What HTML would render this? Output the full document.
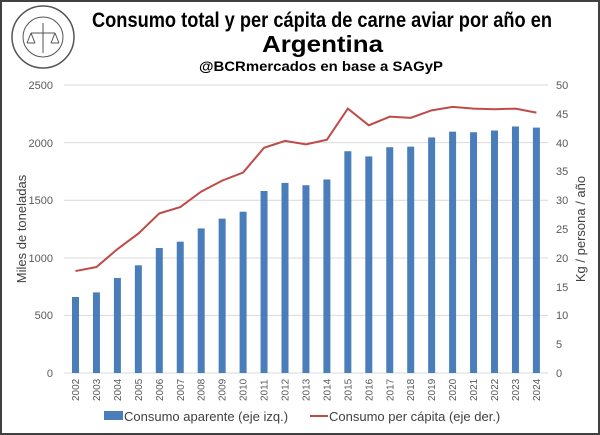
<!DOCTYPE html>
<html><head><meta charset="utf-8"><style>
html,body{margin:0;padding:0;background:#fff}
svg{display:block}
</style></head><body>
<svg width="600" height="435" xmlns="http://www.w3.org/2000/svg" font-family="Liberation Sans, sans-serif">
<rect x="1" y="1" width="598" height="433" fill="#fff" stroke="#404040" stroke-width="2"/>
<g transform="translate(43,37)" fill="none" stroke="#555">
<circle r="31" stroke-width="1.5"/><circle r="20" stroke-width="1"/>
<path d="M-12 -4 L12 -4 M0 -14 L0 16 M-12 -4 L-16 6 M-12 -4 L-8 6 M-16 6 L-8 6 M12 -4 L8 6 M12 -4 L16 6 M8 6 L16 6" stroke-width="1"/>
</g>
<g font-weight="bold" fill="#000">
<text x="92" y="27" font-size="21" textLength="460" lengthAdjust="spacingAndGlyphs">Consumo total y per cápita de carne aviar por año en</text>
<text x="262" y="52" font-size="23" textLength="121" lengthAdjust="spacingAndGlyphs">Argentina</text>
<text x="199" y="71" font-size="14" textLength="244" lengthAdjust="spacingAndGlyphs">@BCRmercados en base a SAGyP</text>
</g>
<g stroke="#d9d9d9" stroke-width="1">
<line x1="64" y1="85" x2="548" y2="85"/><line x1="64" y1="142.6" x2="548" y2="142.6"/>
<line x1="64" y1="200.3" x2="548" y2="200.3"/><line x1="64" y1="258" x2="548" y2="258"/>
<line x1="64" y1="315.4" x2="548" y2="315.4"/><line x1="64" y1="373" x2="548" y2="373"/>
</g>
<g font-size="11" fill="#595959" text-anchor="end">
<text x="53" y="89">2500</text><text x="53" y="147">2000</text><text x="53" y="204">1500</text>
<text x="53" y="262">1000</text><text x="53" y="319">500</text><text x="53" y="377">0</text>
</g>
<g font-size="11" fill="#595959" text-anchor="start">
<text x="556" y="89">50</text><text x="556" y="118">45</text><text x="556" y="147">40</text>
<text x="556" y="175">35</text><text x="556" y="204">30</text><text x="556" y="233">25</text>
<text x="556" y="262">20</text><text x="556" y="291">15</text><text x="556" y="319">10</text>
<text x="556" y="348">5</text><text x="556" y="377">0</text>
</g>
<text transform="translate(26,229) rotate(-90)" font-size="13" fill="#404040" text-anchor="middle">Miles de toneladas</text>
<text transform="translate(585,229) rotate(-90)" font-size="13" fill="#404040" text-anchor="middle">Kg / persona / año</text>
<g id="bars" fill="#4a7ebb"></g>
<polyline id="line" fill="none" stroke="#be4b48" stroke-width="2"/>
<g id="xl" font-size="10" fill="#595959"></g>
<rect x="104" y="411" width="19" height="9" fill="#4a7ebb"/>
<text x="124" y="421" font-size="13" fill="#404040">Consumo aparente (eje izq.)</text>
<line x1="310" y1="416" x2="328" y2="416" stroke="#be4b48" stroke-width="2"/>
<text x="329" y="421" font-size="13" fill="#404040">Consumo per cápita (eje der.)</text>
<script>
var b=[660,700,825,935,1085,1140,1255,1340,1400,1580,1650,1630,1680,1925,1880,1960,1965,2045,2095,2090,2105,2140,2130];
var l=[17.7,18.4,21.5,24.2,27.7,28.8,31.5,33.4,34.8,39.1,40.3,39.7,40.5,45.9,43.0,44.5,44.3,45.6,46.2,45.9,45.8,45.9,45.2];
var base=373,sc=288/2500,pts=[],B=document.getElementById('bars'),X=document.getElementById('xl'),ns='http://www.w3.org/2000/svg';
for(var i=0;i<23;i++){var cx=75.5+i*20.95,h=b[i]*sc;
var r=document.createElementNS(ns,'rect');r.setAttribute('x',cx-3.5);r.setAttribute('y',base-h);r.setAttribute('width',7);r.setAttribute('height',h);B.appendChild(r);
pts.push(cx+','+(base-l[i]*288/50));
var t=document.createElementNS(ns,'text');t.setAttribute('transform','translate('+(cx+3.5)+',401) rotate(-90)');t.textContent=2002+i;X.appendChild(t);}
document.getElementById('line').setAttribute('points',pts.join(' '));
</script>
</svg>
</body></html>
